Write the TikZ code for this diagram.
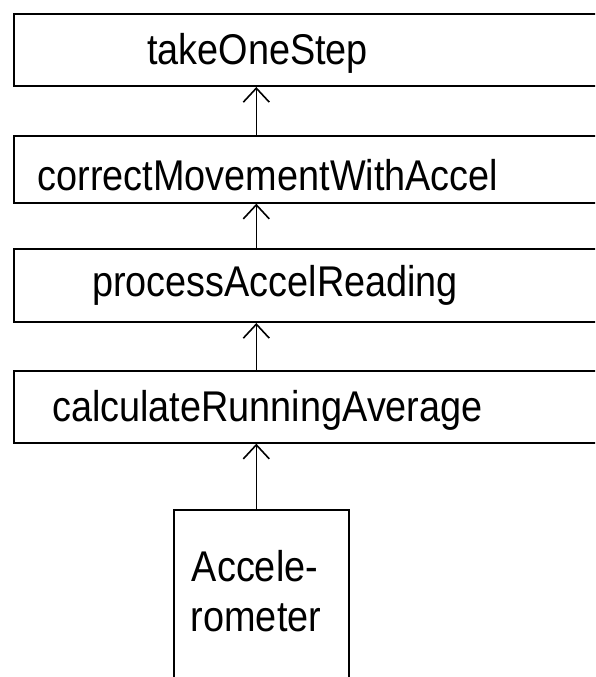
\documentclass[tikz,border=0pt]{standalone}
\usepackage{fontspec}
\setmainfont{Liberation Sans}[FakeStretch=0.88]
\usetikzlibrary{arrows.meta}
\begin{document}
\begin{tikzpicture}[x=1pt,y=-1pt,
  box/.style={draw,line width=2pt,rectangle,anchor=north west,inner sep=0pt},
  wide/.style={box,minimum width=620pt},
  lbl/.style={anchor=base,inner sep=0pt,font=\fontsize{43pt}{50pt}\selectfont},
  arr/.style={line width=1.6pt,-{Straight Barb[length=14pt,width=26pt,line width=1.6pt]}}]
\clip (0,0) rectangle (595,677);
\node[wide,minimum height=71.7pt] (b1) at (13.3,13.3) {};
\node[wide,minimum height=66.7pt] (b2) at (13.3,135) {};
\node[wide,minimum height=73pt] (b3) at (13.3,248) {};
\node[wide,minimum height=71.7pt] (b4) at (13.3,370) {};
\node[box,minimum width=175.6pt,minimum height=200pt] (acc) at (172.7,509) {};
\node[lbl] (t1) at (257.5,65) {takeOneStep};
\node[lbl] (t2) at (268,190) {correctMovementWithAccel};
\node[lbl] (t3) at (275,296.7) {processAccelReading};
\node[lbl] (t4) at (267.5,421.7) {calculateRunningAverage};
\node[lbl] (t5) at (255,581.7) {Accele-};
\node[lbl] (t6) at (256,631.7) {rometer};
\coordinate (ax) at (256.3,0);
\draw[arr] (ax |- b2.north) -- (ax |- b1.south);
\draw[arr] (ax |- b3.north) -- (ax |- b2.south);
\draw[arr] (ax |- b4.north) -- (ax |- b3.south);
\draw[arr] (ax |- acc.north) -- (ax |- b4.south);
\end{tikzpicture}
\end{document}
